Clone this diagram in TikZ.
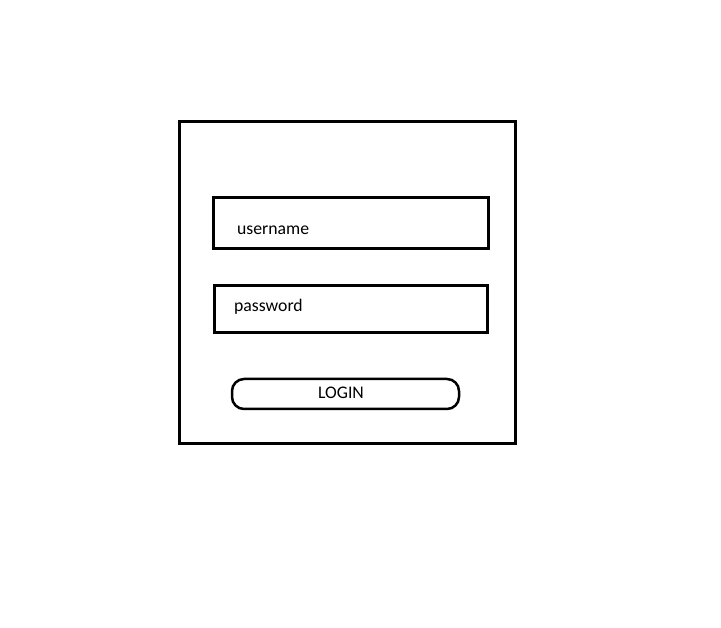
\documentclass[tikz,border=0pt]{standalone}
\usepackage{fontspec}
\setmainfont{Carlito}
\usetikzlibrary{positioning}

\begin{document}
\begin{tikzpicture}[x=1pt, y=-1pt, every node/.style={font=\fontsize{17.7}{20}\selectfont}]
\useasboundingbox (0,0) rectangle (721,628);
\node[draw, line width=3pt, minimum width=336pt, minimum height=322pt] (frame) at (347,283) {};
\node[draw, line width=3pt, minimum width=275pt, minimum height=51pt] (userbox) at (350.5,223.5) {};
\node[draw, line width=3pt, minimum width=273pt, minimum height=47pt] (passbox) at (350.5,309.5) {};
\node[draw, line width=2.5pt, rounded corners=12pt, minimum width=227pt, minimum height=30pt] (loginbtn) at (345.5,394) {};
% Labels:
\node[anchor=west, inner sep=0] (user) at (237,230.5) {username};
\node[anchor=west, inner sep=0] (pass) at (234,306.5) {password};
\node[inner sep=0] (login) at (341,392.5) {LOGIN};
\end{tikzpicture}
\end{document}
